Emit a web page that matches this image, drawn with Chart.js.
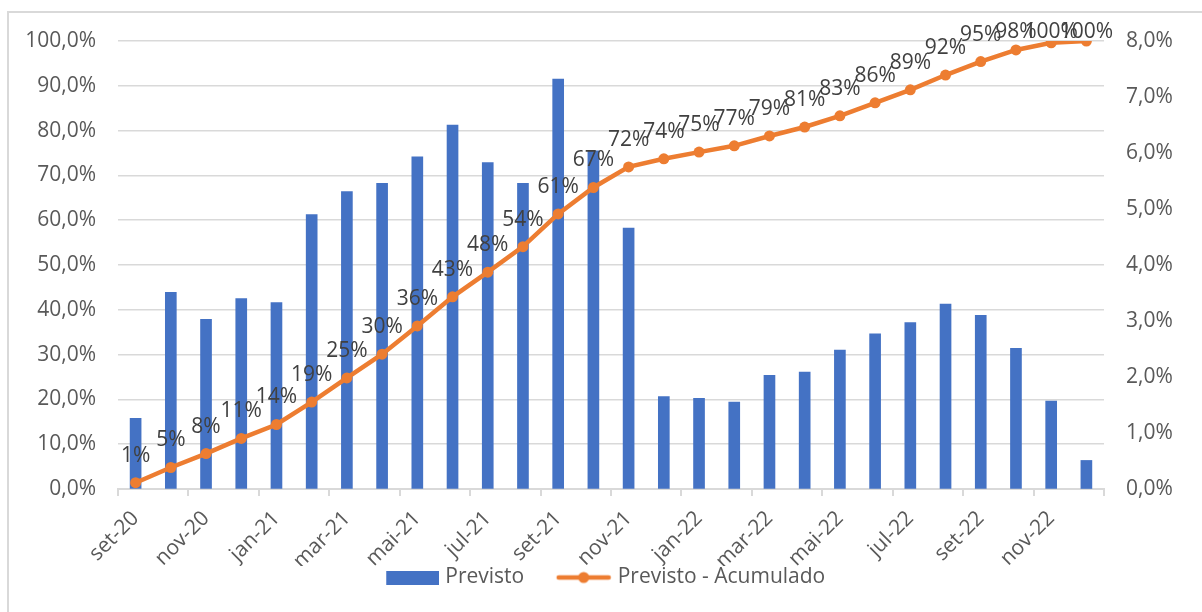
<!DOCTYPE html>
<html>
<head>
<meta charset="utf-8">
<script src="https://cdn.jsdelivr.net/npm/chart.js@4.4.1/dist/chart.umd.min.js"></script>
<style>
  html, body { margin: 0; padding: 0; background: #fff; overflow: hidden; }
  #frame { position: absolute; left: 7px; top: 11px; width: 1400px; height: 800px; border: 2px solid #d9d9d9; box-sizing: border-box; }
  #chart { position: absolute; left: 0; top: 0; }
</style>
</head>
<body>
<div id="frame"></div>
<canvas id="chart" width="1202" height="612"></canvas>
<script>
// months (category axis)
const months = ['set-20', 'out-20', 'nov-20', 'dez-20', 'jan-21', 'fev-21', 'mar-21', 'abr-21',
  'mai-21', 'jun-21', 'jul-21', 'ago-21', 'set-21', 'out-21', 'nov-21', 'dez-21',
  'jan-22', 'fev-22', 'mar-22', 'abr-22', 'mai-22', 'jun-22', 'jul-22', 'ago-22',
  'set-22', 'out-22', 'nov-22', 'dez-22'];

// Previsto, monthly % (right axis)
const previsto = [1.26, 3.51, 3.03, 3.40, 3.33, 4.90, 5.31, 5.46,
  5.93, 6.50, 5.83, 5.46, 7.32, 6.04, 4.66, 1.65,
  1.62, 1.55, 2.03, 2.09, 2.48, 2.77, 2.97, 3.30,
  3.10, 2.51, 1.57, 0.51];

// Previsto - Acumulado, % (left axis)
const acumulado = [1.4, 4.8, 7.9, 11.3, 14.4, 19.4, 24.8, 30.1,
  36.4, 42.9, 48.4, 54.1, 61.4, 67.3, 71.9, 73.7,
  75.2, 76.6, 78.8, 80.8, 83.3, 86.2, 89.1, 92.4,
  95.4, 98.0, 99.6, 100];

const blue = '#4472C4';
const orange = '#ED7D31';
const textColor = '#595959';
const gridColor = '#d9d9d9';
const font = { family: 'Open Sans', size: 21 };

// legend swatches: drawn at the right end of a wider transparent canvas,
// the empty left part gives the gap between the two legend entries
const SW = 91;
function swatchBar() {
    const c = document.createElement('canvas');
    c.width = SW; c.height = 14;
    const g = c.getContext('2d');
    g.fillStyle = blue;
    g.fillRect(SW - 53, 0, 53, 14);
    return c;
}
function swatchLine() {
    const c = document.createElement('canvas');
    c.width = SW; c.height = 14;
    const g = c.getContext('2d');
    g.strokeStyle = orange;
    g.lineWidth = 4.5;
    g.lineCap = 'round';
    g.beginPath();
    g.moveTo(SW - 53, 7);
    g.lineTo(SW - 3, 7);
    g.stroke();
    g.fillStyle = orange;
    g.beginPath();
    g.arc(SW - 28, 7, 5.5, 0, Math.PI * 2);
    g.fill();
    return c;
}
const swatches = [swatchBar(), swatchLine()];

// labels above the cumulative line points (kept inside the chart at the top)
const pointLabels = {
    id: 'pointLabels',
    afterDatasetsDraw(chart) {
        const meta = chart.getDatasetMeta(1);
        const ctx = chart.ctx;
        ctx.save();
        ctx.font = '21px "Open Sans"';
        ctx.fillStyle = '#404040';
        ctx.textAlign = 'center';
        ctx.textBaseline = 'alphabetic';
        meta.data.forEach((pt, i) => {
            ctx.fillText(Math.round(acumulado[i]) + '%', pt.x, Math.max(pt.y - 21, 38));
        });
        ctx.restore();
    }
};

const pct1 = v => v.toFixed(1).replace('.', ',') + '%';

new Chart(document.getElementById('chart'), {
    type: 'bar',
    data: {
        labels: months,
        datasets: [{
            type: 'bar',
            label: 'Previsto',
            data: previsto,
            yAxisID: 'y1',
            backgroundColor: blue,
            barThickness: 11,
            order: 2
        }, {
            type: 'line',
            label: 'Previsto - Acumulado',
            data: acumulado,
            yAxisID: 'y',
            borderColor: orange,
            backgroundColor: orange,
            borderWidth: 4.5,
            pointRadius: 5.5,
            pointBorderWidth: 0,
            pointBackgroundColor: orange,
            tension: 0,
            order: 1
        }]
    },
    options: {
        responsive: false,
        animation: false,
        layout: { padding: { top: 41, left: 0, right: 24, bottom: 14 } },
        scales: {
            x: {
                offset: true,
                grid: {
                    offset: true,
                    drawOnChartArea: false,
                    color: c => (c.index === undefined || c.index % 2 === 0) ? gridColor : 'transparent',
                    lineWidth: 2,
                    tickLength: 7
                },
                border: { color: gridColor, width: 2 },
                ticks: {
                    autoSkip: false,
                    maxRotation: 45,
                    minRotation: 45,
                    padding: 10,
                    color: textColor,
                    font: font,
                    callback: (v, i) => i % 2 === 0 ? months[i] : ''
                },
                afterFit: s => { s.height = 77; }
            },
            y: {
                position: 'left',
                min: 0,
                max: 100,
                ticks: { stepSize: 10, padding: 22, color: textColor, font: font, callback: pct1 },
                grid: { color: gridColor, lineWidth: 1.5, drawTicks: false },
                border: { display: false },
                afterFit: s => { s.width = 118; }
            },
            y1: {
                position: 'right',
                min: 0,
                max: 8,
                ticks: { stepSize: 1, padding: 22, color: textColor, font: font, callback: pct1 },
                grid: { drawOnChartArea: false, drawTicks: false },
                border: { display: false },
                afterFit: s => { s.width = 74; }
            }
        },
        plugins: {
            legend: {
                position: 'bottom',
                labels: {
                    usePointStyle: true,
                    pointStyleWidth: SW - 9,
                    boxHeight: 14,
                    padding: 1,
                    color: textColor,
                    font: font,
                    sort: (a, b) => a.datasetIndex - b.datasetIndex,
                    generateLabels: chart => {
                        const items = Chart.defaults.plugins.legend.labels.generateLabels(chart);
                        items.forEach(it => { it.pointStyle = swatches[it.datasetIndex]; });
                        return items;
                    }
                }
            },
            tooltip: { enabled: false }
        }
    },
    plugins: [pointLabels]
});
</script>
</body>
</html>
